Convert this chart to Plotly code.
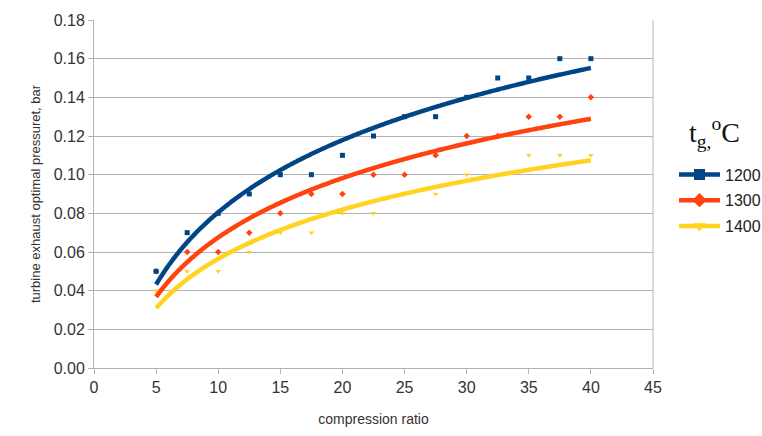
import numpy as np
import plotly.graph_objects as go

# Compression ratio values
ratio = [5, 7.5, 10, 12.5, 15, 17.5, 20, 22.5, 25, 27.5, 30, 32.5, 35, 37.5, 40]

# Optimal turbine exhaust pressure, bar, per gas temperature
p_1200 = [0.05, 0.07, 0.08, 0.09, 0.10, 0.10, 0.11, 0.12, 0.13, 0.13, 0.14, 0.15, 0.15, 0.16, 0.16]
p_1300 = [0.05, 0.06, 0.06, 0.07, 0.08, 0.09, 0.09, 0.10, 0.10, 0.11, 0.12, 0.12, 0.13, 0.13, 0.14]
p_1400 = [0.04, 0.05, 0.05, 0.06, 0.07, 0.07, 0.08, 0.08, 0.09, 0.09, 0.10, 0.10, 0.11, 0.11, 0.11]

series = [
    ("1200", p_1200, "#004586", "square", 5),
    ("1300", p_1300, "#ff420e", "diamond", 5),
    ("1400", p_1400, "#ffd320", "triangle-down", 5),
]

fig = go.Figure()
x = np.array(ratio, dtype=float)
xs = np.linspace(x.min(), x.max(), 200)

# data points first (last series underneath), so the 1200 squares sit on top
for name, vals, color, symbol, msize in reversed(series):
    fig.add_trace(go.Scatter(
        x=ratio, y=vals, mode="markers", showlegend=False,
        marker=dict(symbol=symbol, size=msize, color=color,
                    line=dict(width=0)), hoverinfo="skip"))

# logarithmic trend lines  y = a*ln(x) + b
for name, vals, color, symbol, msize in series:
    a, b = np.polyfit(np.log(x), np.array(vals), 1)
    fig.add_trace(go.Scatter(
        x=xs, y=a * np.log(xs) + b, mode="lines", showlegend=False,
        line=dict(color=color, width=4.5, shape="spline"), hoverinfo="skip"))

# legend entries
for name, vals, color, symbol, msize in series:
    fig.add_trace(go.Scatter(
        x=[None], y=[None], mode="lines+markers", name=name, legendgroup=name,
        line=dict(color=color, width=4.5),
        marker=dict(symbol=symbol, size=11, color=color)))

axis_common = dict(
    showline=True, linecolor="#b3b3b3", linewidth=1,
    ticks="outside", ticklen=5, tickcolor="#b3b3b3",
    tickfont=dict(family="Liberation Sans, Arial, sans-serif", size=16, color="#333333"),
    zeroline=False, mirror=False,
)

fig.update_layout(
    width=762, height=436,
    margin=dict(l=94, r=102, t=18, b=66),
    paper_bgcolor="white", plot_bgcolor="white",
    font=dict(family="Liberation Sans, Arial, sans-serif", color="#333333"),
    xaxis=dict(
        range=[0, 45], dtick=5, tick0=0, showgrid=False,
        title=dict(text="compression ratio", font=dict(size=14, color="#333333"), standoff=18),
        **axis_common),
    yaxis=dict(
        range=[0, 0.18], dtick=0.02, tickformat=".2f",
        showgrid=True, gridcolor="#b3b3b3", gridwidth=1,
        title=dict(text="turbine exhaust optimal pressuret, bar",
                   font=dict(size=13, color="#333333"), standoff=10),
        **axis_common),
    legend=dict(
        xref="container", yref="container",
        x=674 / 762, y=(436 - 157.5) / 436, xanchor="left", yanchor="top",
        font=dict(size=16, color="#222222"),
        itemwidth=41, tracegroupgap=2, bgcolor="rgba(0,0,0,0)",
    ),
)

# legend heading
fig.add_annotation(
    xref="paper", yref="paper", x=1.060, y=0.678,
    xanchor="left", yanchor="middle",
    text="t<sub>g,</sub><sup>o</sup>C", showarrow=False,
    font=dict(family="Liberation Serif, Times New Roman, serif", size=28, color="#111111"))

# right border of the plot area
fig.add_shape(type="line", xref="paper", yref="paper", x0=1, x1=1, y0=0, y1=1,
              line=dict(color="#b3b3b3", width=1))

fig.write_html("out.html")
